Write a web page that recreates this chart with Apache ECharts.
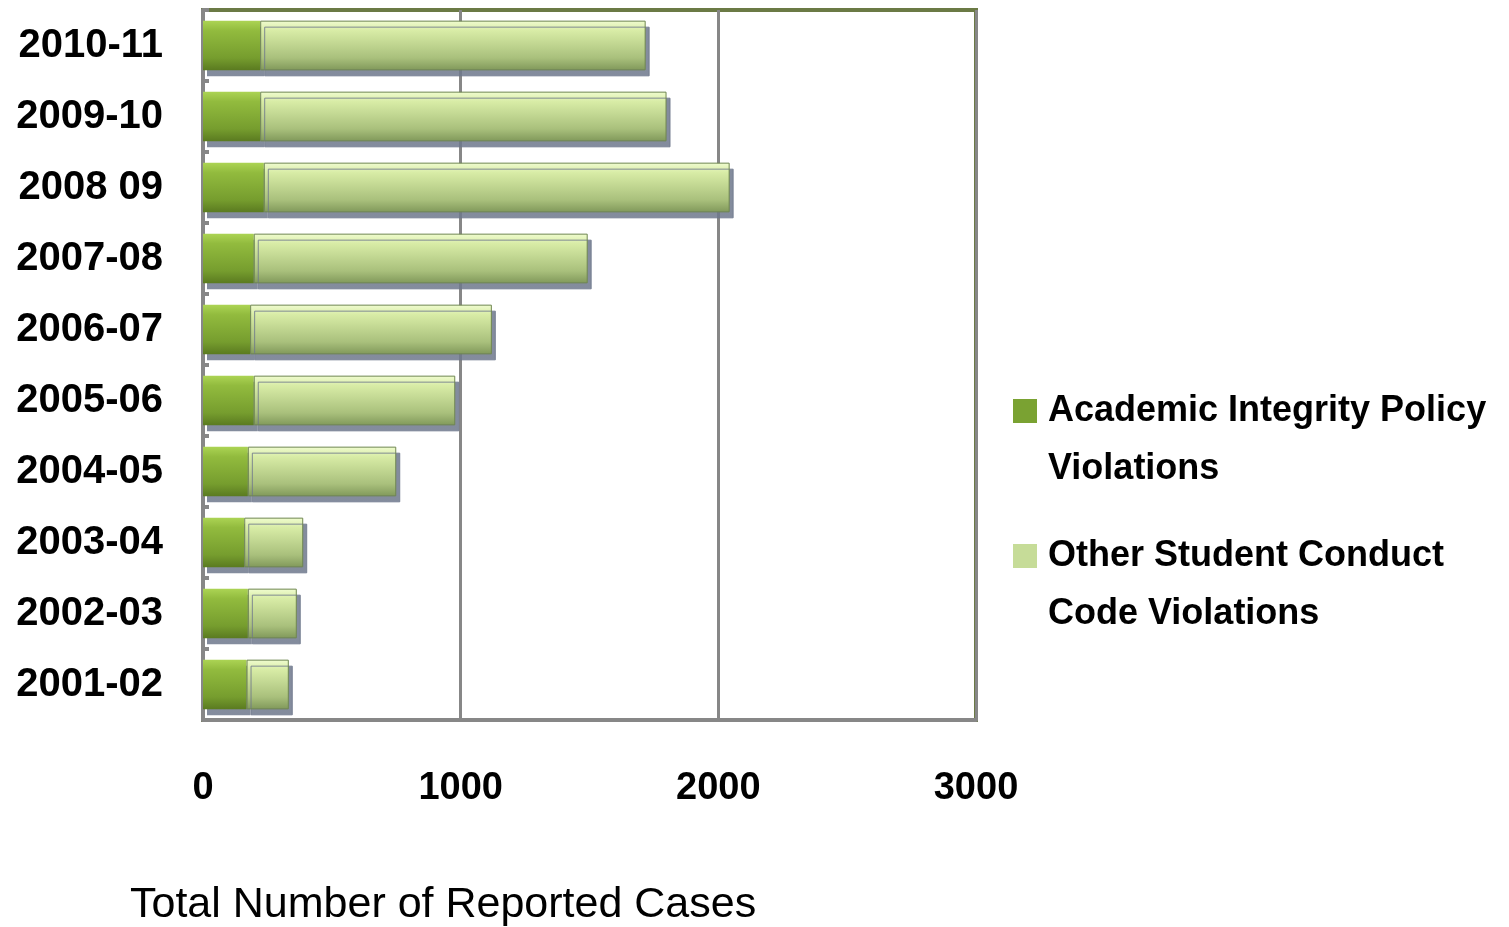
<!DOCTYPE html>
<html>
<head>
<meta charset="utf-8">
<script src="https://cdn.jsdelivr.net/npm/echarts@6/dist/echarts.min.js"></script>
<style>
  html, body { margin: 0; padding: 0; background: #fff; }
  #chart { width: 1509px; height: 927px; }
</style>
</head>
<body>
<div id="chart"></div>
<script>
// --- data (bottom to top, as the y axis draws them) ---
const years = ['2001-02', '2002-03', '2003-04', '2004-05', '2005-06', '2006-07', '2007-08', '2008 09', '2009-10', '2010-11'];
const academicCases = [169, 174, 160, 174, 197, 183, 197, 236, 222, 222];
const otherCases = [164, 190, 229, 576, 782, 938, 1296, 1808, 1577, 1496];
const xTicks = [0, 1000, 2000, 3000];

const FONT = '"Liberation Sans", sans-serif';

// bevelled look: light top, dark bottom
const academicFill = new echarts.graphic.LinearGradient(0, 0, 0, 1, [
  { offset: 0, color: '#acd454' },
  { offset: 0.2, color: '#92bb3e' },
  { offset: 0.75, color: '#769d2e' },
  { offset: 1, color: '#5a7a20' }
]);
const otherFill = new echarts.graphic.LinearGradient(0, 0, 0, 1, [
  { offset: 0, color: '#f0fcd0' },
  { offset: 0.2, color: '#d8eca6' },
  { offset: 0.75, color: '#a9c07c' },
  { offset: 1, color: '#80985a' }
]);

// legend square sits at the top of a taller box so it lines up with the first text line
const legendIcon = 'path://M0,0h24v24h-24z M0,82h24';

const chart = echarts.init(document.getElementById('chart'));

const barShadow = {
  shadowColor: 'rgba(110,120,140,0.85)',
  shadowBlur: 0,
  shadowOffsetX: 4,
  shadowOffsetY: 6
};

chart.setOption({
  backgroundColor: '#fff',
  animation: false,
  title: {
    text: 'Total Number of Reported Cases',
    left: 125,
    top: 879,
    textStyle: { fontFamily: FONT, fontSize: 43, fontWeight: 'normal', color: '#000' }
  },
  legend: {
    orient: 'vertical',
    left: 1008,
    top: 377,
    itemGap: 29,
    itemWidth: 24,
    itemHeight: 82,
    icon: legendIcon,
    data: [
      { name: 'Academic Integrity Policy\nViolations', itemStyle: { color: '#7aa232', borderWidth: 0 } },
      { name: 'Other Student Conduct\nCode Violations', itemStyle: { color: '#c6dc98', borderWidth: 0 } }
    ],
    textStyle: {
      fontFamily: FONT,
      fontSize: 36,
      fontWeight: 'bold',
      color: '#000',
      lineHeight: 58,
      padding: [0, 0, 0, 6]
    }
  },
  grid: {
    left: 203,
    right: 533,
    top: 10,
    height: 710,
    show: true,
    borderColor: '#6b7a45',
    borderWidth: 4,
    backgroundColor: '#fff'
  },
  xAxis: {
    type: 'value',
    min: 0,
    max: 3000,
    interval: 1000,
    axisLine: { show: true, onZero: false, lineStyle: { color: '#878787', width: 4 } },
    axisTick: { show: false },
    splitLine: { show: true, lineStyle: { color: '#878787', width: 3 } },
    axisLabel: {
      margin: 50,
      fontFamily: FONT,
      fontSize: 38,
      fontWeight: 'bold',
      color: '#000',
      formatter: v => (xTicks.includes(v) ? String(v) : '')
    }
  },
  yAxis: {
    type: 'category',
    data: years,
    axisLine: { show: true, lineStyle: { color: '#878787', width: 4 } },
    axisTick: { show: true, length: 6, inside: true, lineStyle: { color: '#878787', width: 4 } },
    axisLabel: {
      margin: 40,
      fontFamily: FONT,
      fontSize: 40,
      fontWeight: 'bold',
      color: '#000'
    }
  },
  series: [
    {
      name: 'Academic Integrity Policy\nViolations',
      type: 'bar',
      stack: 'total',
      barCategoryGap: '30%',
      itemStyle: Object.assign({ color: academicFill }, barShadow),
      data: academicCases
    },
    {
      name: 'Other Student Conduct\nCode Violations',
      type: 'bar',
      stack: 'total',
      barCategoryGap: '30%',
      itemStyle: Object.assign({ color: otherFill, borderColor: '#6f8650', borderWidth: 1 }, barShadow),
      data: otherCases
    }
  ]
});
</script>
</body>
</html>
